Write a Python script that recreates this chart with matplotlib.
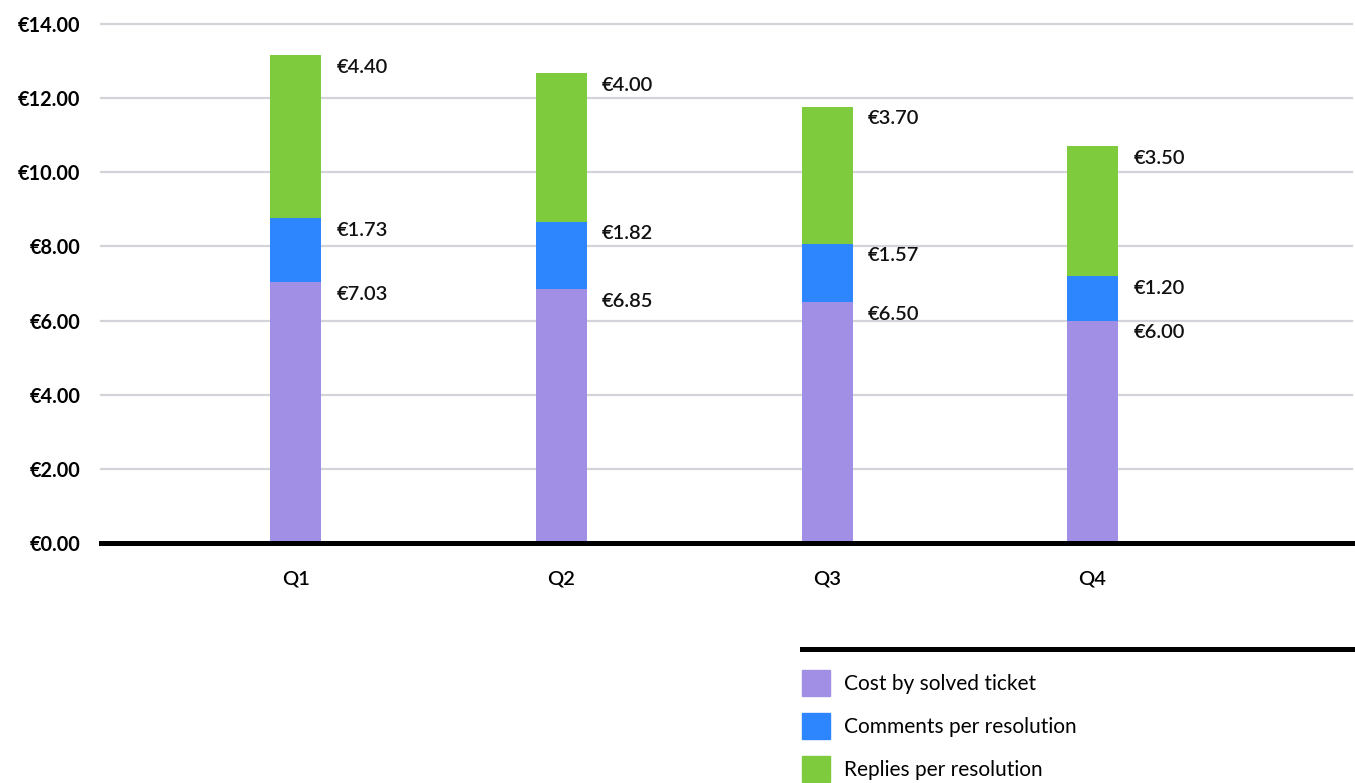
import matplotlib.pyplot as plt
from matplotlib.lines import Line2D
from matplotlib.patches import Patch
from matplotlib import font_manager as fm
import numpy as np

plt.rcParams['font.family'] = ['Lato', 'DejaVu Sans']


def lato(style, size):
    # take the Lato file by name so the weight is the one asked for
    for f in fm.fontManager.ttflist:
        if f.fname.endswith('/Lato-%s.ttf' % style):
            return fm.FontProperties(fname=f.fname, size=size)
    return fm.FontProperties(family='Lato', weight=style.lower(), size=size)


quarters = ['Q1', 'Q2', 'Q3', 'Q4']
cost_solved = [7.03, 6.85, 6.50, 6.00]
comments = [1.73, 1.82, 1.57, 1.20]
replies = [4.40, 4.00, 3.70, 3.50]

series = [
    ('Cost by solved ticket', cost_solved, '#a08fe5'),
    ('Comments per resolution', comments, '#2e86ff'),
    ('Replies per resolution', replies, '#7ecb3e'),
]
yticks = [0, 2, 4, 6, 8, 10, 12, 14]

fig = plt.figure(figsize=(13.55, 7.83), dpi=100)
ax = fig.add_axes([101/1355, 1-543/783, (1352-101)/1355, (543-24)/783])

x = np.arange(len(quarters))
w = 0.192
value_font = lato('SemiBold', 14.5)
bottom = np.zeros(len(quarters))
for name, vals, col in series:
    ax.bar(x, vals, w, bottom=bottom, color=col, label=name, zorder=2)
    tops = bottom + np.array(vals)
    for xi, top, v in zip(x, tops, vals):
        ax.annotate('€%.2f' % v, (xi + w/2, top), xytext=(11, -2.5),
                    textcoords='offset points', ha='left', va='top',
                    fontproperties=value_font, color='#111111')
    bottom = tops

ax.set_xlim(-0.734, 3.977)
ax.set_ylim(0, 14)
ax.tick_params(axis='y', length=0, pad=15)
ax.tick_params(axis='x', length=0, pad=19.5)
ax.set_yticks(yticks, ['€%.2f' % t for t in yticks])
ax.set_xticks(x, quarters)
for s in ax.spines.values():
    s.set_visible(False)
for t in yticks[1:]:
    ax.axhline(t, color='#d3d3da', lw=1.6, zorder=1, clip_on=False)
ax.axhline(0, color='black', lw=3.6, zorder=3, clip_on=False)

# legend with black rule above
fig.add_artist(Line2D([802/1355, 1352/1355], [1-649/783, 1-649/783],
                      color='black', lw=3.6, transform=fig.transFigure))
handles = [Patch(color=col, label=name) for name, _, col in series]
fig.legend(handles=handles, loc='upper left',
           bbox_to_anchor=(794/1355, 1-662/783), frameon=False,
           prop=lato('Regular', 15), handlelength=1.35, handleheight=1.55,
           handletextpad=0.65, labelspacing=0.8, borderaxespad=0)

fig.canvas.draw()
for lab in ax.get_yticklabels():
    lab.set_fontproperties(lato('Bold', 14.3))
for lab in ax.get_xticklabels():
    lab.set_fontproperties(lato('SemiBold', 14.5))

fig.savefig('out.png', dpi=100)
